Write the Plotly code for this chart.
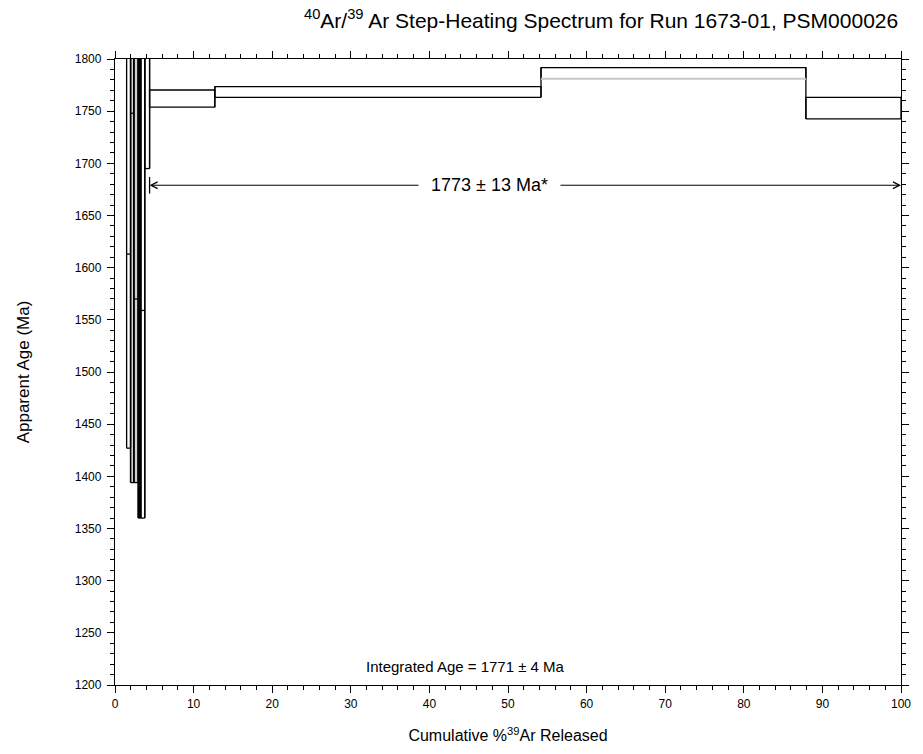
import plotly.graph_objects as go

# ---- data ----
step_edges = [1.48, 1.98, 2.40, 2.95, 3.28, 3.79, 4.40, 12.70, 54.20, 87.90, 100.0]
age_lo = [1427, 1394, 1394, 1360, 1360, 1695, 1753.8, 1763.3, 1781.0, 1742.6]
age_hi = [1850, 1850, 1850, 1850, 1850, 1850, 1770.3, 1773.5, 1791.7, 1763.3]
step_age = [1613, 1748, 1570, 1559, 1559, None, None, None, None, None]

plateau_start = 4.40
plateau_end = 100.0
plateau_y = 1679
plateau_text = "1773 ± 13 Ma*"
plateau_text_x = 47.6
integrated_text = "Integrated Age = 1771 ± 4 Ma"
integrated_x = 44.6
integrated_y = 1218

# styles (kept separate from data)
fills = ["white", "#d0d0d0", "#d0d0d0", "black", "white", "white",
         "white", "white", "white", "white"]
bottom_colors = ["black"] * 8 + ["#c8c8c8", "black"]
FONT = "Liberation Sans, Arial, Helvetica, sans-serif"
LW = 1.3

fig = go.Figure()

n = len(age_lo)
for i in range(n):
    x0, x1 = step_edges[i], step_edges[i + 1]
    lo, hi = age_lo[i], age_hi[i]
    fig.add_trace(go.Scatter(x=[x0, x1, x1, x0, x0], y=[lo, lo, hi, hi, lo],
                             fill="toself", fillcolor=fills[i], mode="lines",
                             line=dict(width=0), hoverinfo="skip", showlegend=False))

bx, by = [], []
for i in range(n):
    x0, x1 = step_edges[i], step_edges[i + 1]
    lo, hi = age_lo[i], age_hi[i]
    bx += [x0, x0, x1, x1, None]
    by += [lo, hi, hi, lo, None]
    if i + 1 < n:
        bx += [x1, x1, None]
        by += [min(lo, age_lo[i + 1]), max(hi, age_hi[i + 1]), None]
    if step_age[i] is not None:
        bx += [x0, x1, None]
        by += [step_age[i], step_age[i], None]
bx += [plateau_start, plateau_start, None]
by += [plateau_y - 8, plateau_y + 8, None]
fig.add_trace(go.Scatter(x=bx, y=by, mode="lines", line=dict(color="black", width=LW),
                         hoverinfo="skip", showlegend=False))

for col in sorted(set(bottom_colors)):
    xs, ys = [], []
    for i in range(n):
        if bottom_colors[i] == col:
            xs += [step_edges[i], step_edges[i + 1], None]
            ys += [age_lo[i], age_lo[i], None]
    fig.add_trace(go.Scatter(x=xs, y=ys, mode="lines",
                             line=dict(color=col, width=LW + (0.6 if col != "black" else 0)),
                             hoverinfo="skip", showlegend=False))

for tip, tail in [(plateau_start, plateau_text_x), (plateau_end, plateau_text_x)]:
    fig.add_annotation(x=tip, y=plateau_y, ax=tail, ay=plateau_y, xref="x", yref="y",
                       axref="x", ayref="y", text="", showarrow=True, arrowhead=5,
                       arrowsize=1.3, arrowwidth=1, arrowcolor="black")
fig.add_annotation(x=plateau_text_x, y=plateau_y, xref="x", yref="y", text=plateau_text,
                   showarrow=False, bgcolor="white", borderpad=12,
                   font=dict(family=FONT, size=18, color="black"))
fig.add_annotation(x=integrated_x, y=integrated_y, xref="x", yref="y", text=integrated_text,
                   showarrow=False, font=dict(family=FONT, size=15, color="black"))

fig.add_annotation(x=0.618, y=1, xref="paper", yref="paper", yshift=25,
                   text="<sup>40</sup>Ar/<sup>39</sup> Ar Step-Heating Spectrum for Run 1673-01, PSM000026",
                   showarrow=False, xanchor="center", yanchor="bottom",
                   font=dict(family=FONT, size=21, color="black"))

axis_common = dict(showline=True, linecolor="black", linewidth=1.3, mirror="ticks",
                   ticks="outside", tickcolor="black", tickwidth=1.2, showgrid=False,
                   zeroline=False, tickfont=dict(family=FONT, size=12, color="black"))
fig.update_xaxes(range=[0, 100], dtick=10, tick0=0, ticklen=7,
                 minor=dict(dtick=2, ticklen=4, ticks="outside", tickcolor="black"),
                 title=dict(text="Cumulative %<sup>39</sup>Ar Released",
                            font=dict(family=FONT, size=16, color="black"), standoff=20),
                 **axis_common)
fig.update_yaxes(range=[1200, 1800], dtick=50, tick0=1200, ticklen=7,
                 ticklabelstandoff=3,
                 minor=dict(dtick=10, ticklen=4, ticks="outside", tickcolor="black"),
                 title=dict(text="Apparent Age (Ma)",
                            font=dict(family=FONT, size=17, color="black"), standoff=40),
                 **axis_common)

fig.update_layout(width=923, height=754, margin=dict(l=115, r=16, t=59, b=68),
                  plot_bgcolor="white", paper_bgcolor="white", showlegend=False)

fig.write_html("out.html")
